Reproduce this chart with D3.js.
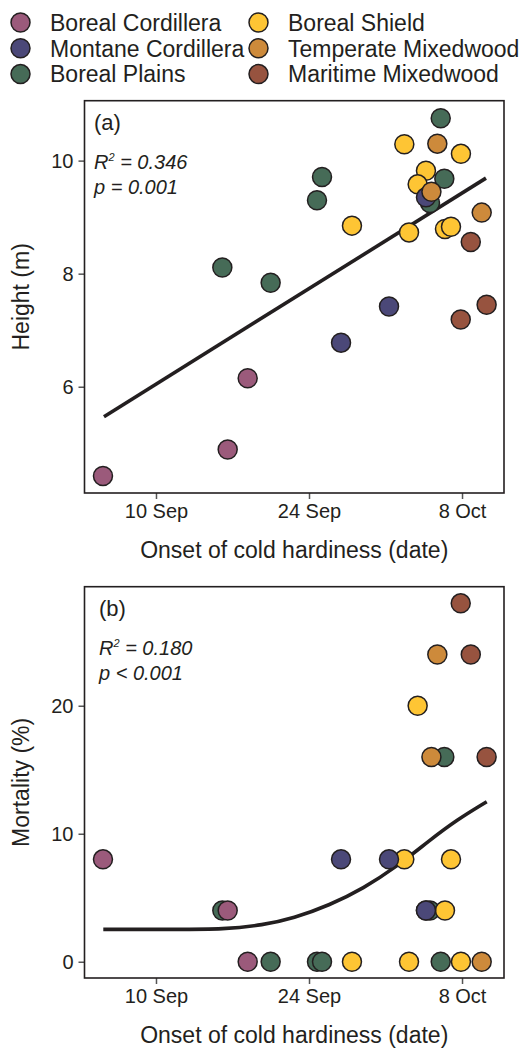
<!DOCTYPE html>
<html>
<head>
<meta charset="utf-8">
<script src="https://cdn.jsdelivr.net/npm/d3@7"></script>
<style>
  body { margin: 0; background: #fff; }
  svg text { font-family: "Liberation Sans", Arial, sans-serif; fill: #231f20; }
</style>
</head>
<body>
<div id="chart"></div>
<script>
const regions = ["Boreal Cordillera", "Montane Cordillera", "Boreal Plains",
                 "Boreal Shield", "Temperate Mixedwood", "Maritime Mixedwood"];
const regionColors = ["#9b5a7b", "#4b4878", "#466b57", "#fec534", "#cd8a3b", "#97533f"];
// order in which the regions are stacked (later = on top)
const drawRank = [2, 3, 0, 1, 4, 5];

// one entry per site; onset is days counted from 31 Aug (10 Sep = 10, 8 Oct = 38)
const siteRegion   = [0, 0, 0,
                      1, 1, 1,
                      2, 2, 2, 2, 2, 2, 2,
                      3, 3, 3, 3, 3, 3, 3, 3,
                      4, 4, 4,
                      5, 5, 5];
const onsetDay     = [5.15, 16.56, 18.39,
                      26.93, 31.32, 34.7,
                      16.07, 20.49, 24.73, 25.19, 36.05, 36.38, 35.07,
                      27.93, 33.15, 36.44, 36.99, 32.72, 37.9, 34.7, 33.94,
                      39.8, 35.74, 35.2,
                      37.88, 40.25, 38.8];
const heightM      = [4.42, 4.89, 6.15,
                      6.78, 7.42, 9.35,
                      8.11, 7.84, 9.30, 9.71, 10.75, 9.68, 9.25,
                      8.85, 8.73, 8.79, 8.83, 10.29, 10.12, 9.82, 9.58,
                      9.08, 10.30, 9.45,
                      7.19, 7.45, 8.56];
const mortalityPct = [8, 4, 0,
                      8, 8, 4,
                      4, 0, 0, 0, 0, 16, 4,
                      0, 0, 4, 8, 8, 0, 4, 20,
                      0, 24, 16,
                      28, 16, 24];

// fitted lines
const heightFitDay = [5.24, 40.19];
const heightFitVal = [5.47, 9.69];
const mortFitDay = [5.18, 12.0, 16.16, 19.82, 22.56, 25.92, 28.97, 32.02, 35.07, 37.51, 40.26];
const mortFitVal = [2.53, 2.53, 2.53, 2.87, 3.39, 4.43, 5.73, 7.42, 9.51, 11.07, 12.5];

const xTickDays = [10, 24, 38];
const heightTicks = [6, 8, 10];
const mortTicks = [0, 10, 20];

const width = 524, height = 1048;
const svg = d3.select("#chart").append("svg")
    .attr("width", width)
    .attr("height", height);

const dayToDate = d => new Date(Date.UTC(2019, 7, 31) + d * 864e5);
const fmt = d3.utcFormat("%-d %b");

const sites = onsetDay.map((d, i) => ({
    region: siteRegion[i], day: d, h: heightM[i], m: mortalityPct[i]
})).sort((a, b) => drawRank[a.region] - drawRank[b.region]);

// ---- legend ----
const legend = svg.append("g");
regions.forEach((r, i) => {
    const col = Math.floor(i / 3), row = i % 3;
    const g = legend.append("g")
        .attr("transform", `translate(${col ? 258.5 : 20.5},${22.5 + row * 25.8})`);
    g.append("circle")
        .attr("r", 9.5)
        .attr("fill", regionColors[i])
        .attr("stroke", "#231f20")
        .attr("stroke-width", 1.5);
    g.append("text")
        .attr("x", 29.5)
        .attr("dy", "0.36em")
        .style("font-size", "23px")
        .text(r);
});

function drawPanel(opts) {
    const { top, bottom, left, right, yDomain, yTicks, yKey, fitDay, fitVal,
            curved, letter, r2, pText, yTitle, textX } = opts;

    const x = d3.scaleUtc()
        .domain([dayToDate(3.46), dayToDate(41.84)])
        .range([left, right]);
    const y = d3.scaleLinear()
        .domain(yDomain)
        .range([bottom, top]);

    const g = svg.append("g");

    // axes
    const xAxis = g.append("g")
        .attr("transform", `translate(0,${bottom})`)
        .call(d3.axisBottom(x).tickValues(xTickDays.map(dayToDate)).tickFormat(fmt)
            .tickSize(6).tickPadding(5));
    const yAxis = g.append("g")
        .attr("transform", `translate(${left},0)`)
        .call(d3.axisLeft(y).tickValues(yTicks).tickFormat(d3.format("d"))
            .tickSize(6).tickPadding(5));
    [xAxis, yAxis].forEach(a => {
        a.select(".domain").remove();
        a.selectAll(".tick line").attr("stroke", "#555").attr("stroke-width", 1.5);
        a.selectAll(".tick text").style("font-size", "20px").attr("fill", "#231f20");
    });

    g.append("text")
        .attr("x", (left + right) / 2)
        .attr("y", bottom + 65)
        .attr("text-anchor", "middle")
        .style("font-size", "23px")
        .text("Onset of cold hardiness (date)");

    g.append("text")
        .attr("transform", "rotate(-90)")
        .attr("x", -(top + bottom) / 2)
        .attr("y", 29)
        .attr("text-anchor", "middle")
        .style("font-size", "23px")
        .text(yTitle);

    // fitted line
    const line = d3.line()
        .x((d, i) => x(dayToDate(fitDay[i])))
        .y((d, i) => y(fitVal[i]))
        .curve(curved ? d3.curveBasis : d3.curveLinear);
    g.append("path")
        .datum(fitDay)
        .attr("d", line)
        .attr("fill", "none")
        .attr("stroke", "#231f20")
        .attr("stroke-width", 3.6);

    // points
    g.selectAll("circle.site")
        .data(sites)
        .join("circle")
        .attr("class", "site")
        .attr("cx", d => x(dayToDate(d.day)))
        .attr("cy", d => y(d[yKey]))
        .attr("r", 9.5)
        .attr("fill", d => regionColors[d.region])
        .attr("stroke", "#231f20")
        .attr("stroke-width", 1.5);

    // frame
    g.append("rect")
        .attr("x", left)
        .attr("y", top)
        .attr("width", right - left)
        .attr("height", bottom - top)
        .attr("fill", "none")
        .attr("stroke", "#231f20")
        .attr("stroke-width", 1.6);

    // annotations
    g.append("text")
        .attr("x", textX)
        .attr("y", top + 29)
        .style("font-size", "22px")
        .text(letter);

    const rt = g.append("text")
        .attr("x", textX)
        .attr("y", top + 68)
        .style("font-size", "20px")
        .style("font-style", "italic");
    rt.append("tspan").text("R");
    rt.append("tspan").attr("dy", -8).style("font-size", "11px").text("2");
    rt.append("tspan").attr("dy", 8).text(" = " + r2);

    g.append("text")
        .attr("x", textX)
        .attr("y", top + 93)
        .style("font-size", "20px")
        .style("font-style", "italic")
        .text(pText);
}

drawPanel({
    top: 100.7, bottom: 493, left: 84.5, right: 504,
    yDomain: [4.12, 11.06], yTicks: heightTicks, yKey: "h",
    fitDay: heightFitDay, fitVal: heightFitVal, curved: false,
    letter: "(a)", r2: "0.346", pText: "p = 0.001", yTitle: "Height (m)", textX: 94
});

drawPanel({
    top: 586.7, bottom: 978, left: 84.5, right: 504,
    yDomain: [-1.27, 29.3], yTicks: mortTicks, yKey: "m",
    fitDay: mortFitDay, fitVal: mortFitVal, curved: true,
    letter: "(b)", r2: "0.180", pText: "p < 0.001", yTitle: "Mortality (%)", textX: 99
});
</script>
</body>
</html>
